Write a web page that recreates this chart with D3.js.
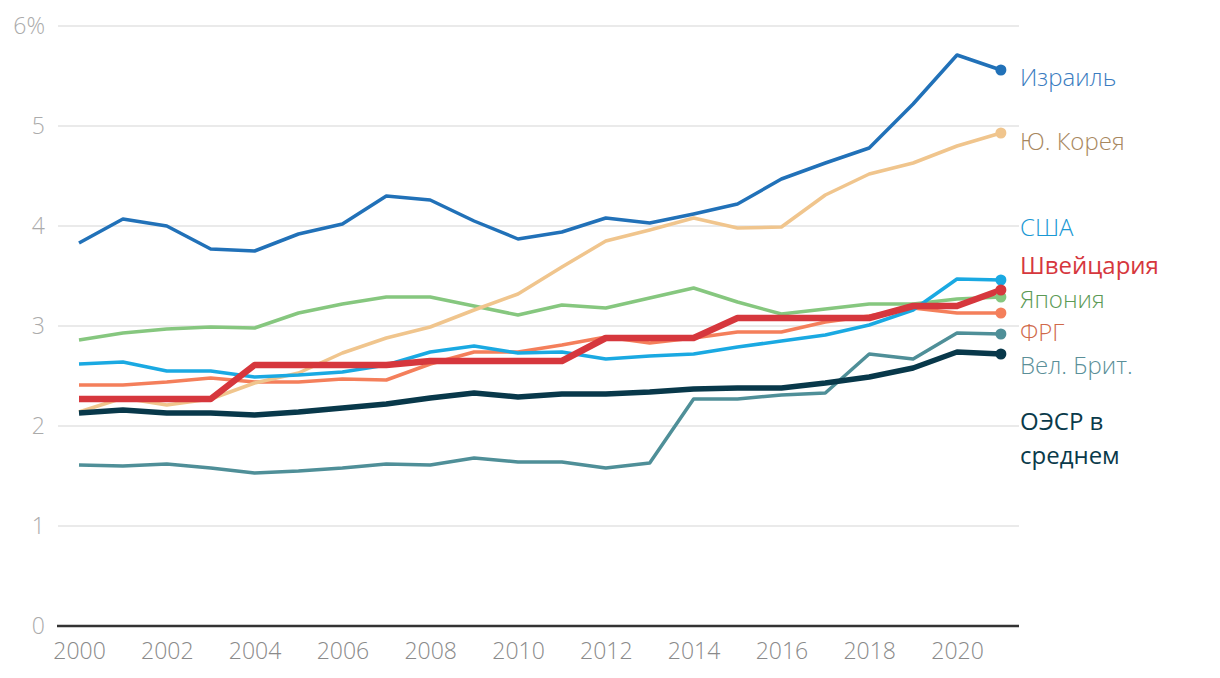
<!DOCTYPE html>
<html><head><meta charset="utf-8">
<script src="https://cdn.jsdelivr.net/npm/d3@7"></script>
<style>body{margin:0;background:#fff;} svg{display:block;font-family:"Open Sans",sans-serif;}</style>
</head><body>
<svg id="chart" width="1220" height="678"></svg>
<script>
const years = d3.range(2000, 2022);
const yTicks = [0,1,2,3,4,5,6];
const xTicks = [2000,2002,2004,2006,2008,2010,2012,2014,2016,2018,2020];

const israel = [3.83,4.07,4.00,3.77,3.75,3.92,4.02,4.30,4.26,4.05,3.87,3.94,4.08,4.03,4.12,4.22,4.47,4.63,4.78,5.22,5.71,5.56];
const korea = [2.14,2.28,2.21,2.27,2.43,2.53,2.73,2.88,2.99,3.16,3.32,3.59,3.85,3.96,4.08,3.98,3.99,4.31,4.52,4.63,4.80,4.93];
const usa = [2.62,2.64,2.55,2.55,2.49,2.51,2.54,2.61,2.74,2.80,2.73,2.74,2.67,2.70,2.72,2.79,2.85,2.91,3.01,3.16,3.47,3.46];
const swiss = [2.27,2.27,2.27,2.27,2.61,2.61,2.61,2.61,2.65,2.65,2.65,2.65,2.88,2.88,2.88,3.08,3.08,3.08,3.08,3.20,3.20,3.36];
const japan = [2.86,2.93,2.97,2.99,2.98,3.13,3.22,3.29,3.29,3.20,3.11,3.21,3.18,3.28,3.38,3.24,3.12,3.17,3.22,3.22,3.27,3.29];
const germany = [2.41,2.41,2.44,2.48,2.44,2.44,2.47,2.46,2.62,2.74,2.74,2.81,2.89,2.83,2.88,2.94,2.94,3.04,3.10,3.18,3.13,3.13];
const uk = [1.61,1.60,1.62,1.58,1.53,1.55,1.58,1.62,1.61,1.68,1.64,1.64,1.58,1.63,2.27,2.27,2.31,2.33,2.72,2.67,2.93,2.92];
const oecd = [2.13,2.16,2.13,2.13,2.11,2.14,2.18,2.22,2.28,2.33,2.29,2.32,2.32,2.34,2.37,2.38,2.38,2.43,2.49,2.58,2.74,2.72];

const series = [
  {name:"Вел. Брит.", values:uk, color:"#4f8f98", text:"#5a8f98", w:3.5, ly:[366]},
  {name:"ФРГ", values:germany, color:"#f47f5b", text:"#d0694a", w:3.5, ly:[333]},
  {name:"Япония", values:japan, color:"#86c77f", text:"#5c9a55", w:3.5, ly:[300]},
  {name:"Ю. Корея", values:korea, color:"#f0c58d", text:"#a8875e", w:3.5, ly:[142]},
  {name:"США", values:usa, color:"#1aa9e2", text:"#1a98d4", w:3.5, ly:[228]},
  {name:"Израиль", values:israel, color:"#2171b8", text:"#3a7cc0", w:3.5, ly:[78]},
  {name:"ОЭСР в|среднем", values:oecd, color:"#08384a", text:"#0a3a4a", w:5.5, ly:[422,456], weight:400},
  {name:"Швейцария", values:swiss, color:"#d6373d", text:"#d6373d", w:6.5, ly:[266], weight:400}
];

const svg = d3.select("#chart");
const x = d3.scaleLinear().domain([2000,2020]).range([79,957]);
const y = d3.scaleLinear().domain([0,6]).range([626,26]);

svg.append("g").selectAll("line").data(yTicks.filter(d=>d>0)).join("line")
  .attr("x1",58).attr("x2",1019).attr("y1",d=>y(d)).attr("y2",d=>y(d))
  .attr("stroke","#e3e3e3").attr("stroke-width",1.5);

svg.append("g").selectAll("text").data(yTicks).join("text")
  .attr("x",45).attr("y",d=>y(d)).attr("dy","0.35em").attr("text-anchor","end")
  .attr("fill","#ababab").attr("font-size",23).attr("font-weight",300)
  .text(d=>d===6?"6%":d);

svg.append("line").attr("x1",57).attr("x2",1019).attr("y1",y(0)).attr("y2",y(0))
  .attr("stroke","#333").attr("stroke-width",2.5);

const xAxis = d3.axisBottom(x).tickValues(xTicks).tickFormat(d3.format("d")).tickSize(0).tickPadding(17);
const gx = svg.append("g").attr("transform",`translate(0,${y(0)})`).call(xAxis);
gx.select(".domain").remove();
gx.selectAll("text").attr("font-size",23).attr("font-weight",300).attr("fill","#8a8a8a").attr("font-family","'Open Sans',sans-serif");

const line = d3.line().x((d,i)=>x(years[i])).y(d=>y(d));
series.forEach(s=>{
  svg.append("path").attr("d",line(s.values)).attr("fill","none")
    .attr("stroke",s.color).attr("stroke-width",s.w).attr("stroke-linejoin","round");
});
series.forEach(s=>{
  svg.append("circle").attr("cx",x(2021)).attr("cy",y(s.values[21])).attr("r",5.5).attr("fill",s.color);
});
series.forEach(s=>{
  s.name.split("|").forEach((t,i)=>{
    svg.append("text").attr("x",1020).attr("y",s.ly[i]).attr("dy","0.35em")
      .attr("font-size",24).attr("fill",s.text).attr("font-weight",s.weight||300).text(t);
  });
});
</script>
</body></html>
